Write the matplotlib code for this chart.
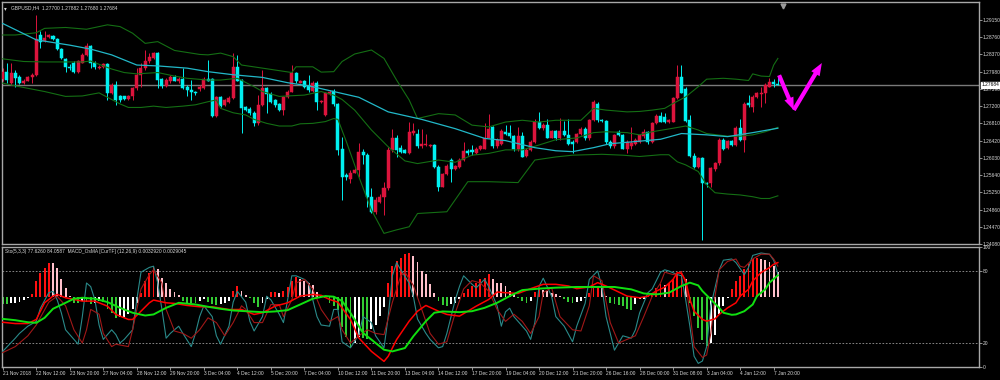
import matplotlib
matplotlib.use("Agg")
import matplotlib.pyplot as plt
import numpy as np
from matplotlib.transforms import blended_transform_factory

plt.rcParams['font.family'] = ['Liberation Sans', 'DejaVu Sans']

# ---------------- data ----------------
symbol_header = "GBPUSD,H4  1.27700 1.27882 1.27680 1.27684"
sub_header = "Sto(5,3,3) 77.6260 84.0587  MACD_OsMA [CurTF] (12,26,9) 0.0032920 0.0029045"

opens = [1.2781,1.2798,1.2772,1.2794,1.2785,1.2773,1.2778,1.2785,1.2791,1.2880,
         1.2868,1.2876,1.2879,1.2871,1.2849,1.2826,1.2809,1.2818,1.2798,1.2818,
         1.2836,1.2856,1.2818,1.2806,1.2808,1.2815,1.2749,1.2768,1.2743,1.2742,
         1.2736,1.2743,1.2760,1.2791,1.2806,1.2821,1.2828,1.2840,1.2781,1.2766,
         1.2777,1.2787,1.2776,1.2781,1.2764,1.2757,1.2753,1.2758,1.2760,1.2781,
         1.2781,1.2698,1.2740,1.2723,1.2730,1.2738,1.2809,1.2779,1.2717,1.2713,
         1.2705,1.2681,1.2723,1.2760,1.2748,1.2733,1.2725,1.2711,1.2740,1.2753,
         1.2794,1.2773,1.2776,1.2766,1.2755,1.2772,1.2729,1.2700,1.2748,1.2754,
         1.2724,1.2622,1.2564,1.2554,1.2569,1.2575,1.2617,1.2609,1.2515,1.2481,
         1.2504,1.2515,1.2534,1.2621,1.2649,1.2626,1.2621,1.2613,1.2660,1.2658,
         1.2629,1.2631,1.2630,1.2632,1.2583,1.2538,1.2566,1.2599,1.2577,1.2583,
         1.2598,1.2619,1.2620,1.2613,1.2622,1.2624,1.2649,1.2672,1.2629,1.2635,
         1.2662,1.2660,1.2652,1.2622,1.2652,1.2607,1.2621,1.2639,1.2685,1.2671,
         1.2677,1.2649,1.2664,1.2647,1.2664,1.2654,1.2639,1.2639,1.2657,1.2669,
         1.2647,1.2688,1.2725,1.2688,1.2686,1.2639,1.2629,1.2662,1.2654,1.2624,
         1.2629,1.2635,1.2639,1.2652,1.2662,1.2639,1.2681,1.2698,1.2696,1.2685,
         1.2685,1.2738,1.2787,1.2758,1.2689,1.2607,1.2583,1.2602,1.2547,1.2545,
         1.2577,1.2591,1.2643,1.2625,1.2640,1.2632,1.2670,1.2643,1.2726,1.2719,
         1.2741,1.2747,1.2749,1.2764,1.2774,1.27700]
highs = [1.2806,1.2817,1.2817,1.2802,1.2791,1.2781,1.2788,1.2794,1.2926,1.2889,
         1.2889,1.2883,1.2882,1.2874,1.2851,1.2828,1.2815,1.2821,1.2825,1.2840,
         1.2862,1.2858,1.2821,1.2813,1.2818,1.2818,1.2772,1.2776,1.2745,1.2743,
         1.2745,1.2764,1.2806,1.2817,1.2847,1.2840,1.2843,1.2843,1.2783,1.2783,
         1.2791,1.2791,1.2785,1.2807,1.2768,1.2779,1.2755,1.2768,1.2785,1.2825,
         1.2783,1.2743,1.2743,1.2736,1.2742,1.2840,1.2836,1.2781,1.2720,1.2717,
         1.2708,1.2745,1.2802,1.2764,1.2751,1.2736,1.2728,1.2743,1.2757,1.2813,
         1.2798,1.2779,1.2779,1.2791,1.2776,1.2776,1.2734,1.2753,1.2757,1.2758,
         1.2726,1.2651,1.2568,1.2575,1.2579,1.2637,1.2624,1.2613,1.2534,1.2515,
         1.2522,1.2549,1.2628,1.2669,1.2654,1.2632,1.2624,1.2685,1.2681,1.2669,
         1.2669,1.2658,1.2635,1.2634,1.2586,1.2569,1.2590,1.2602,1.2586,1.2602,
         1.2639,1.2622,1.2632,1.2628,1.2632,1.2681,1.2703,1.2675,1.2649,1.2669,
         1.2677,1.2677,1.2654,1.2673,1.2662,1.2626,1.2643,1.2690,1.2707,1.2681,
         1.2692,1.2667,1.2667,1.2694,1.2687,1.2690,1.2643,1.2660,1.2673,1.2673,
         1.2692,1.2734,1.2730,1.2690,1.2688,1.2643,1.2658,1.2666,1.2658,1.2643,
         1.2673,1.2647,1.2658,1.2669,1.2664,1.2685,1.2703,1.2707,1.2704,1.2692,
         1.2741,1.2813,1.2813,1.2763,1.2700,1.2613,1.2606,1.2606,1.2549,1.2583,
         1.2594,1.2649,1.2647,1.2643,1.2643,1.2674,1.2692,1.2730,1.2745,1.2745,
         1.2753,1.2764,1.2772,1.2783,1.2781,1.27882]
lows = [1.2776,1.2772,1.2768,1.2764,1.2770,1.2770,1.2776,1.2772,1.2788,1.2851,
        1.2866,1.2874,1.2870,1.2847,1.2826,1.2798,1.2802,1.2796,1.2796,1.2817,
        1.2834,1.2806,1.2803,1.2803,1.2806,1.2734,1.2748,1.2723,1.2730,1.2733,
        1.2734,1.2734,1.2757,1.2764,1.2802,1.2818,1.2826,1.2760,1.2760,1.2764,
        1.2773,1.2776,1.2773,1.2758,1.2742,1.2734,1.2745,1.2755,1.2758,1.2776,
        1.2696,1.2696,1.2717,1.2720,1.2728,1.2736,1.2776,1.2659,1.2708,1.2700,
        1.2674,1.2677,1.2720,1.2704,1.2726,1.2719,1.2708,1.2700,1.2738,1.2751,
        1.2773,1.2772,1.2760,1.2753,1.2753,1.2711,1.2726,1.2698,1.2745,1.2720,
        1.2610,1.2507,1.2553,1.2545,1.2568,1.2560,1.2590,1.2492,1.2479,1.2477,
        1.2500,1.2473,1.2530,1.2617,1.2605,1.2614,1.2613,1.2611,1.2654,1.2626,
        1.2626,1.2629,1.2628,1.2579,1.2528,1.2536,1.2564,1.2549,1.2575,1.2581,
        1.2596,1.2609,1.2609,1.2611,1.2620,1.2622,1.2647,1.2626,1.2626,1.2632,
        1.2654,1.2649,1.2619,1.2619,1.2604,1.2605,1.2619,1.2637,1.2669,1.2667,
        1.2647,1.2647,1.2644,1.2644,1.2652,1.2632,1.2613,1.2637,1.2655,1.2644,
        1.2644,1.2687,1.2685,1.2684,1.2635,1.2626,1.2626,1.2652,1.2622,1.2614,
        1.2624,1.2632,1.2637,1.2649,1.2635,1.2637,1.2679,1.2683,1.2681,1.2681,
        1.2683,1.2736,1.2749,1.2685,1.2604,1.2579,1.2579,1.2417,1.2538,1.2538,
        1.2574,1.2587,1.2621,1.2622,1.2630,1.2630,1.2640,1.2617,1.2717,1.2707,
        1.2738,1.2719,1.2726,1.2763,1.2763,1.27680]
closes = [1.2798,1.2779,1.2794,1.2783,1.2773,1.2778,1.2785,1.2791,1.2872,1.2866,
          1.2874,1.2880,1.2871,1.2849,1.2828,1.2809,1.2806,1.2798,1.2821,1.2836,
          1.2855,1.2818,1.2808,1.2809,1.2815,1.2749,1.2768,1.2734,1.2734,1.2736,
          1.2743,1.2760,1.2791,1.2806,1.2823,1.2831,1.2840,1.2779,1.2766,1.2779,
          1.2787,1.2777,1.2781,1.2760,1.2757,1.2753,1.2749,1.2764,1.2781,1.2778,
          1.2698,1.2740,1.2720,1.2733,1.2738,1.2809,1.2778,1.2715,1.2711,1.2704,
          1.2681,1.2723,1.2760,1.2748,1.2730,1.2723,1.2711,1.2740,1.2753,1.2794,
          1.2776,1.2776,1.2764,1.2757,1.2772,1.2730,1.2732,1.2749,1.2753,1.2724,
          1.2621,1.2560,1.2559,1.2569,1.2575,1.2617,1.2609,1.2515,1.2481,1.2507,
          1.2515,1.2534,1.2621,1.2649,1.2621,1.2617,1.2615,1.2662,1.2664,1.2629,
          1.2634,1.2634,1.2633,1.2583,1.2538,1.2566,1.2584,1.2577,1.2584,1.2599,
          1.2619,1.2614,1.2616,1.2624,1.2629,1.2649,1.2669,1.2629,1.2644,1.2664,
          1.2658,1.2652,1.2622,1.2652,1.2605,1.2621,1.2639,1.2685,1.2671,1.2677,
          1.2649,1.2664,1.2647,1.2664,1.2654,1.2635,1.2635,1.2657,1.2669,1.2647,
          1.2688,1.2730,1.2688,1.2686,1.2639,1.2629,1.2654,1.2654,1.2624,1.2639,
          1.2637,1.2643,1.2654,1.2662,1.2639,1.2681,1.2697,1.2685,1.2685,1.2689,
          1.2738,1.2787,1.2750,1.2687,1.2607,1.2583,1.2602,1.2545,1.2544,1.2579,
          1.2591,1.2643,1.2622,1.2640,1.2632,1.2670,1.2643,1.2725,1.2723,1.2741,
          1.2749,1.2750,1.2768,1.2774,1.2769,1.27684]

last_price = 1.27684

# moving average (cyan) and Bollinger bands (green), sampled at bar indices
ma_bars = [0, 8, 16, 21, 26, 32, 37, 44, 49, 55, 62, 68, 73, 79, 85, 92, 100, 108, 115, 120,
           127, 132, 136, 141, 145, 150, 157, 162, 168, 173, 179, 185]
ma_vals = [1.2907, 1.2870, 1.2858, 1.2849, 1.2836, 1.2813, 1.2811, 1.2806, 1.2798, 1.2791,
           1.2785, 1.2773, 1.2766, 1.2753, 1.2740, 1.2707, 1.2690, 1.2669, 1.2647, 1.2642,
           1.2626, 1.2619, 1.2617, 1.2626, 1.2635, 1.2639, 1.2645, 1.2658, 1.2655, 1.2651,
           1.2660, 1.2670]

bb_up_bars = [0, 3, 8, 10, 15, 20, 25, 28, 31, 34, 37, 41, 47, 49, 52, 55, 57, 62, 69, 70,
              74, 76, 79, 81, 84, 88, 91, 94, 97, 99, 104, 108, 112, 116, 120, 124, 128, 132,
              138, 141, 144, 149, 152, 155, 158, 160, 163, 166, 168, 172, 175, 178, 179, 181,
              183, 184, 185]
bb_up_vals = [1.2881, 1.2881, 1.2886, 1.2896, 1.2898, 1.2894, 1.2904, 1.2900, 1.2885, 1.2862,
              1.2866, 1.2846, 1.2837, 1.2836, 1.2840, 1.2832, 1.2813, 1.2806, 1.2796, 1.2809,
              1.2809, 1.2797, 1.2798, 1.2821, 1.2838, 1.2847, 1.2828, 1.2779, 1.2734, 1.2692,
              1.2703, 1.2700, 1.2677, 1.2673, 1.2684, 1.2688, 1.2684, 1.2688, 1.2688, 1.2715,
              1.2711, 1.2707, 1.2708, 1.2711, 1.2715, 1.2726, 1.2741, 1.2764, 1.2781, 1.2783,
              1.2781, 1.2778, 1.2793, 1.2788, 1.2787, 1.2813, 1.2828]

bb_mid_bars = [0, 5, 10, 16, 19, 21, 24, 26, 29, 32, 37, 41, 44, 49, 52, 56, 60, 62, 66, 72,
               76, 79, 81, 84, 88, 92, 96, 99, 104, 108, 112, 116, 120, 124, 128, 132, 137,
               141, 144, 149, 152, 155, 160, 163, 166, 168, 173, 176, 179, 182, 185]
bb_mid_vals = [1.2827, 1.2821, 1.2820, 1.2820, 1.2820, 1.2822, 1.2811, 1.2804, 1.2796, 1.2793,
               1.2796, 1.2788, 1.2783, 1.2779, 1.2779, 1.2783, 1.2764, 1.2753, 1.2742, 1.2745,
               1.2753, 1.2745, 1.2735, 1.2711, 1.2666, 1.2628, 1.2596, 1.2590, 1.2598, 1.2593,
               1.2609, 1.2613, 1.2621, 1.2621, 1.2632, 1.2644, 1.2648, 1.2660, 1.2662, 1.2660,
               1.2655, 1.2662, 1.2670, 1.2675, 1.2666, 1.2658, 1.2652, 1.2652, 1.2655, 1.2662,
               1.2672]

bb_lo_bars = [0, 4, 10, 15, 19, 23, 26, 28, 30, 33, 36, 39, 43, 46, 49, 51, 52, 55, 58, 60,
              63, 66, 69, 71, 74, 77, 79, 80, 82, 85, 88, 91, 94, 97, 99, 106, 111, 116, 123,
              127, 132, 136, 143, 148, 152, 157, 159, 161, 163, 166, 168, 170, 173, 176, 179,
              181, 183, 185]
bb_lo_vals = [1.2772, 1.2764, 1.2753, 1.2742, 1.2743, 1.2750, 1.2735, 1.2725, 1.2717, 1.2717,
              1.2720, 1.2717, 1.2720, 1.2723, 1.2730, 1.2734, 1.2715, 1.2705, 1.2700, 1.2690,
              1.2681, 1.2675, 1.2675, 1.2680, 1.2681, 1.2685, 1.2692, 1.2690, 1.2640, 1.2560,
              1.2485, 1.2432, 1.2440, 1.2447, 1.2477, 1.2481, 1.2549, 1.2549, 1.2547, 1.2598,
              1.2605, 1.2609, 1.2611, 1.2609, 1.2606, 1.2610, 1.2610, 1.2594, 1.2587, 1.2572,
              1.2542, 1.2524, 1.2521, 1.2519, 1.2515, 1.2511, 1.2511, 1.2517]

# lower window: stochastic (5,3,3) and MACD OsMA (12,26,9), in the window's 0-100 scale
sto_main_bars = [0,3,4,6,8,9,11,12,13,14,15,17,18,19,20,21,22,23,24,26,27,28,29,31,32,33,35,36,37,38,
                 39,40,42,43,45,46,47,48,50,51,52,54,55,56,58,59,60,62,63,64,66,67,68,69,70,72,73,74,75,76,
                 78,79,80,81,83,85,86,88,89,91,92,93,94,95,97,98,99,101,102,104,105,106,108,109,110,112,113,115,116,118,
                 119,120,121,122,124,125,126,127,128,129,131,132,134,136,137,139,140,142,143,144,146,147,148,150,151,152,154,155,157,158,
                 159,161,162,163,164,165,166,167,168,169,171,172,174,175,177,178,179,181,183,184,185]
sto_main_vals = [13,24,28,34,38,49,62,63,56,45,31,23,19,42,70,67,56,35,23,31,27,20,23,31,56,79,83,84,70,48,
                 24,28,34,28,17,28,42,51,42,26,19,34,54,63,54,38,30,42,59,56,44,37,56,76,76,73,70,56,42,35,
                 34,48,48,21,16,27,42,37,26,16,42,76,87,81,70,59,40,28,23,16,17,28,56,67,76,69,66,73,67,51,
                 34,46,49,42,34,30,23,37,67,74,59,42,34,21,34,53,73,80,67,42,14,20,26,24,31,45,62,65,79,81,
                 80,77,76,56,34,9,3,5,17,51,81,89,90,87,77,83,93,95,94,89,77.626]

sto_sig_bars = [0,3,6,8,11,13,15,17,19,20,21,23,24,26,27,30,31,33,35,36,38,39,41,43,45,47,49,51,53,55,
                57,58,60,62,64,66,67,69,70,72,74,76,78,80,81,83,85,87,89,91,93,95,96,98,100,102,104,106,108,110,
                112,114,116,118,120,122,124,126,128,129,131,133,136,138,140,141,143,145,147,149,151,153,155,157,158,160,162,163,164,165,
                167,168,169,170,171,173,175,176,177,179,181,183,184,185]
sto_sig_vals = [12,17,26,35,54,59,51,31,20,31,48,44,28,17,19,17,31,65,77,81,70,48,30,28,24,31,41,37,26,37,
                51,48,37,37,52,52,42,56,70,73,65,48,38,42,31,20,26,31,28,27,54,76,79,68,48,28,19,21,45,65,
                72,70,63,48,38,44,38,28,42,62,66,42,31,30,51,76,72,37,20,23,26,42,59,70,79,77,79,70,45,17,
                8,10,28,59,81,88,90,84,83,90,94,94,90,84.0587]

macd_bars = [0,3,6,8,10,12,13,15,19,22,25,27,30,31,33,35,36,39,41,44,47,50,54,57,60,62,65,68,71,74,
             76,78,80,83,85,88,91,92,94,97,99,101,104,106,109,111,113,116,118,120,123,126,129,132,135,137,140,142,144,147,
             149,152,154,156,158,160,161,162,163,164,165,167,168,170,171,173,175,176,178,179,181,183,184,185]
macd_vals = [37.3,36.2,36.2,39.6,53.5,59.1,60.5,57.7,54.9,54.9,50.7,43.8,39.6,39.6,46.5,53.5,55.8,53.5,53.0,51.3,
             50.2,50.2,47.9,47.9,43.8,45.2,50.7,53.5,59.1,60.5,59.7,56.3,54.0,39.6,24.2,13.0,4.7,8.9,22.8,38.2,
             46.5,51.3,46.5,43.8,42.4,46.5,50.7,56.3,62.5,61.9,61.3,65.3,68.9,68.9,67.5,65.3,66.7,70.3,67.5,62.5,
             59.1,57.7,59.1,63.3,66.5,73.1,78.7,78.0,72.0,56.3,46.5,39.6,38.2,40.1,43.8,49.3,53.5,59.1,64.7,71.7,
             78.7,82.8,85.6,87.0]

signal_bars = [0,3,6,8,10,12,15,17,19,22,25,28,31,34,36,39,42,46,49,52,55,58,62,65,68,71,74,77,79,81,
               83,86,89,91,93,96,98,101,103,105,109,112,115,118,121,124,128,132,137,142,146,150,153,156,159,162,164,166,167,169,
               171,172,174,175,177,179,180,182,183,185]
signal_vals = [40.1,39.0,37.3,36.8,41.0,48.5,53.5,56.9,57.7,56.9,54.1,49.3,45.2,42.9,43.8,49.3,53.5,52.1,50.2,48.5,
               47.1,46.5,45.7,46.3,47.4,52.1,56.9,59.1,58.6,55.0,45.0,28.4,20.0,14.4,13.0,15.8,25.6,38.2,45.2,46.3,
               45.7,46.5,49.3,53.5,59.1,64.1,65.3,66.1,66.7,66.7,66.7,64.7,61.3,60.5,61.9,67.5,70.3,68.0,63.3,56.3,
               49.3,45.2,43.5,43.8,46.5,52.1,59.1,64.7,70.3,76.4]

osma_hist = [-5.5,-6.1,-5.0,-4.7,-4.2,-2.5,-0.5,2.8,13.4,20.4,
             24.6,28.5,28.0,24.6,15.4,7.8,0.8,-4.7,-5.0,-3.4,
             -4.0,-6.1,-4.7,-3.4,-4.0,-10.0,-13.0,-17.5,-17.0,-16.5,
             -14.5,-10.3,-4.7,3.6,13.4,20.4,25.4,23.7,16.2,12.0,
             7.0,4.2,1.4,-3.4,-4.7,-4.9,-5.3,-3.4,-1.4,-4.2,
             -6.1,-7.0,-6.1,-4.7,-3.4,5.0,9.2,5.0,1.4,-0.8,
             -5.3,-8.1,-4.7,-1.4,4.2,4.4,3.1,5.0,8.7,13.4,
             17.0,15.4,13.4,12.0,9.8,4.2,1.4,-1.0,-5.0,-7.5,
             -11.0,-25.0,-33.0,-42.0,-38.0,-33.0,-34.0,-35.0,-27.0,-23.0,
             -16.0,-8.0,12.0,26.0,30.2,32.9,35.7,37.1,34.3,28.8,
             21.8,19.0,10.6,3.6,-3.4,-7.0,-7.5,-6.1,-4.7,-2.0,
             3.6,6.4,9.2,12.0,14.8,16.2,19.0,14.8,12.0,11.5,
             9.2,5.0,2.2,-0.8,-3.4,-4.7,-3.0,4.2,6.4,5.8,
             5.0,3.6,2.2,0.8,-1.4,-4.2,-4.7,-4.2,-3.4,-0.5,
             3.6,7.8,9.2,7.8,0.8,-4.7,-6.1,-6.5,-7.5,-10.3,
             -10.5,-6.1,-2.0,-1.4,0.8,2.2,7.8,10.6,10.0,12.0,
             14.8,19.0,21.8,14.8,-4.7,-15.9,-25.7,-35.5,-41.0,-38.2,
             -31.3,-14.5,-7.5,-0.6,6.4,13.4,17.6,23.2,27.4,31.5,
             32.9,32.1,31.0,29.3,26.0,20.9]
osma_zero = 58.3

time_labels = ["21 Nov 2018", "22 Nov 12:00", "23 Nov 20:00", "27 Nov 04:00", "28 Nov 12:00",
               "29 Nov 20:00", "3 Dec 04:00", "4 Dec 12:00", "5 Dec 20:00", "7 Dec 04:00",
               "10 Dec 12:00", "11 Dec 20:00", "13 Dec 04:00", "14 Dec 12:00", "17 Dec 20:00",
               "19 Dec 04:00", "20 Dec 12:00", "21 Dec 20:00", "26 Dec 16:00", "28 Dec 00:00",
               "31 Dec 08:00", "3 Jan 04:00", "4 Jan 12:00", "7 Jan 20:00"]
label_every = 8
price_ticks = [1.29150, 1.28760, 1.28370, 1.27980, 1.27590, 1.27200, 1.26810, 1.26420,
               1.26030, 1.25640, 1.25250, 1.24860, 1.24470, 1.24080]
osc_ticks = [100, 80, 20, 0]
osc_levels = [80, 20]

# ---------------- drawing ----------------
BG = "#000000"
FG = "#d8d8d8"
SPINE = "#a8a8a8"
BULL = "#dc143c"
BEAR = "#00f0f0"
FS = 3.5

W, H = 1000, 380
fig = plt.figure(figsize=(W / 100, H / 100), dpi=100, facecolor=BG)
ax = fig.add_axes([2 / W, 1 - 244 / H, 977 / W, 242 / H], facecolor=BG)
ax2 = fig.add_axes([2 / W, 1 - 367 / H, 977 / W, 120 / H], facecolor=BG)

n = len(closes)
x = np.arange(n)
o = np.array(opens); h = np.array(highs); l = np.array(lows); c = np.array(closes)
up = c >= o
cols = np.where(up, BULL, BEAR)

ax.vlines(x, l, h, colors=cols, linewidth=0.7, zorder=2)
ax.bar(x, np.abs(c - o), bottom=np.minimum(o, c), width=0.72, color=cols,
       edgecolor=cols, linewidth=0.35, zorder=3)

ax.plot(bb_up_bars, bb_up_vals, color="#146e14", lw=0.8, zorder=4)
ax.plot(bb_mid_bars, bb_mid_vals, color="#146e14", lw=0.8, zorder=4)
ax.plot(bb_lo_bars, bb_lo_vals, color="#146e14", lw=0.8, zorder=4)
ax.plot(ma_bars, ma_vals, color="#22b8c8", lw=0.9, zorder=4)

ax.axhline(last_price, color="#7a7a7a", lw=1.0, zorder=1)

xmin = -0.17
xmax = xmin + 977 / 4.19
ax.set_xlim(xmin, xmax)
ax.set_ylim(1.24080, 1.24080 + 242 * 0.0002263)
ax2.set_xlim(xmin, xmax)
ax2.set_ylim(0, 100)

for a in (ax, ax2):
    for s in a.spines.values():
        s.set_color(SPINE)
        s.set_linewidth(1.0)
    a.yaxis.tick_right()
    a.tick_params(axis="y", colors=SPINE, length=2, width=0.6, pad=0.8,
                  labelsize=FS, labelcolor=FG)

ax.set_yticks(price_ticks, [f"{p:.5f}" for p in price_ticks])
ax.set_xticks([])
ax2.set_yticks(osc_ticks, [str(t) for t in osc_ticks])

tick_pos = [i * label_every for i in range(len(time_labels))]
ax2.set_xticks(tick_pos, time_labels)
ax2.tick_params(axis="x", colors=SPINE, length=2, width=0.6, pad=1.2,
                labelsize=FS, labelcolor=FG)
for lbl in ax2.get_xticklabels():
    lbl.set_ha("left")

# current price box
tr = blended_transform_factory(ax.transAxes, ax.transData)
ax.text(1.0025, last_price, f"{last_price:.5f}", transform=tr, fontsize=FS,
        color="#000000", va="center", ha="left", zorder=10, clip_on=False,
        bbox=dict(boxstyle="square,pad=0.12", facecolor="#ffffff", edgecolor="#ffffff"))

# header texts
ax.text(0.002, 0.985, "\u25BE", transform=ax.transAxes, fontsize=4, color=FG,
        va="top", ha="left", family="DejaVu Sans")
ax.text(0.009, 0.985, symbol_header, transform=ax.transAxes, fontsize=FS,
        color=FG, va="top", ha="left")
ax2.text(0.003, 0.985, sub_header, transform=ax2.transAxes, fontsize=FS,
         color=FG, va="top", ha="left")

# chart shift marker
trx = blended_transform_factory(ax.transData, ax.transAxes)
ax.plot([186.3], [0.985], marker="v", color="#9a9a9a", markersize=3.5,
        transform=trx, clip_on=False)

# magenta hand-drawn arrows
arrow_style = "simple,head_width=0.7,head_length=0.9,tail_width=0.3"
ax.annotate("", xy=(188.8, 1.27112), xytext=(185.3, 1.27900),
            arrowprops=dict(arrowstyle=arrow_style, color="#ff00ff", lw=0, shrinkA=0, shrinkB=0))
ax.annotate("", xy=(195.5, 1.28176), xytext=(188.8, 1.27112),
            arrowprops=dict(arrowstyle=arrow_style, color="#ff00ff", lw=0, shrinkA=0, shrinkB=0))

# lower window
hist = np.array(osma_hist)
prev = np.concatenate([[hist[0]], hist[:-1]])
hcols = np.where(hist >= 0,
                 np.where(hist >= prev, "#ff1010", "#ffc0cb"),
                 np.where(hist <= prev, "#33cc33", "#ffffff"))
ax2.bar(x, hist, bottom=osma_zero, width=0.45, color=hcols, linewidth=0, zorder=2)

for lv in osc_levels:
    ax2.axhline(lv, color="#9a9a9a", lw=0.6, ls=(0, (2, 2)), zorder=1)

ax2.plot(sto_main_bars, sto_main_vals, color="#2a8a8a", lw=0.8, zorder=3)
ax2.plot(sto_sig_bars, sto_sig_vals, color="#a01818", lw=0.8, zorder=3)
ax2.plot(macd_bars, macd_vals, color="#ff0000", lw=1.1, zorder=4)
ax2.plot(signal_bars, signal_vals, color="#10e010", lw=1.4, zorder=5)

fig.savefig("out.png", dpi=100, facecolor=BG)
